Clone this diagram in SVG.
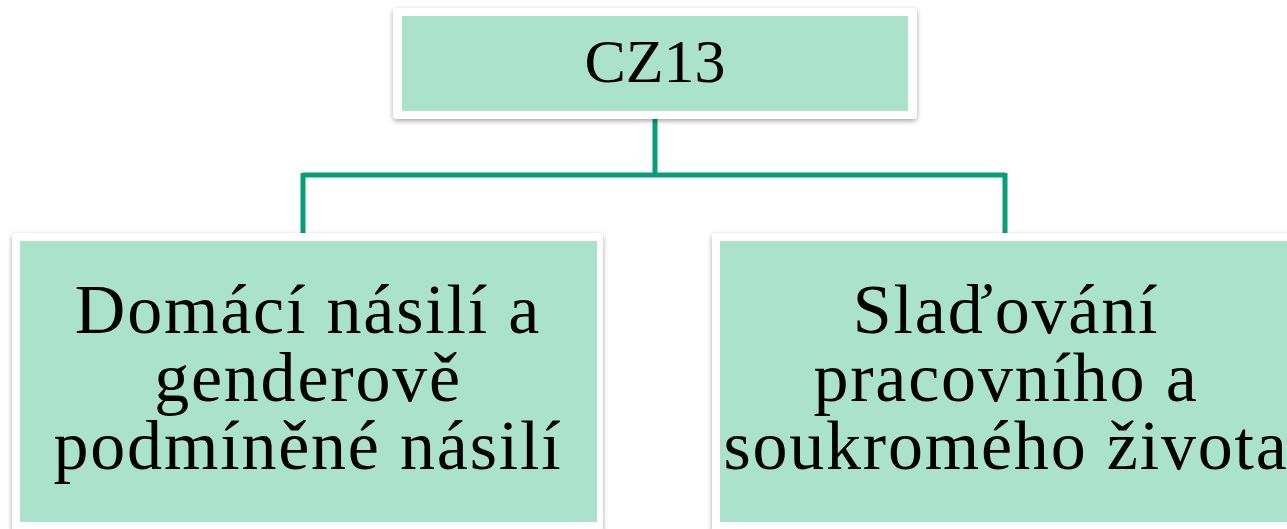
<svg xmlns="http://www.w3.org/2000/svg" width="1287" height="529" viewBox="0 0 1287 529">
<defs>
<filter id="sh" x="-5%" y="-10%" width="110%" height="125%">
<feDropShadow dx="0" dy="2" stdDeviation="2.5" flood-color="#000" flood-opacity="0.35"/>
</filter>
<style>
.frame{fill:#ffffff;filter:url(#sh)}
.fill{fill:#abe2cb}
.conn{stroke:#0a9e78;stroke-width:5;fill:none}
.t{font-family:"Liberation Serif","DejaVu Serif",serif;fill:#000;text-anchor:middle}
.big{font-size:70px;letter-spacing:1.8px}
</style>
</defs>
<rect width="1287" height="529" fill="#ffffff"/>
<g id="connectors">
<path class="conn" d="M655 118 V175 M303 175 H1005 M303 173 V234 M1005 173 V234"/>
</g>
<g id="node-cz13">
<rect class="frame" x="393" y="8" width="524" height="111" rx="4"/>
<rect class="fill" x="402" y="16" width="506" height="95"/>
<text class="t" x="655" y="82" font-size="62">CZ13</text>
</g>
<g id="node-domaci">
<rect class="frame" x="12" y="233" width="591" height="300" rx="4"/>
<rect class="fill" x="20" y="241" width="577" height="281"/>
<text class="t big"><tspan x="308" y="333">Domácí násilí a</tspan><tspan x="308" y="401">genderově</tspan><tspan x="308" y="469">podmíněné násilí</tspan></text>
</g>
<g id="node-sladovani">
<rect class="frame" x="712" y="233" width="591" height="300" rx="4"/>
<rect class="fill" x="720" y="241" width="577" height="281"/>
<text class="t big"><tspan x="1006" y="333">Slaďování</tspan><tspan x="1006" y="401">pracovního a</tspan><tspan x="1006" y="469">soukromého života</tspan></text>
</g>
</svg>
